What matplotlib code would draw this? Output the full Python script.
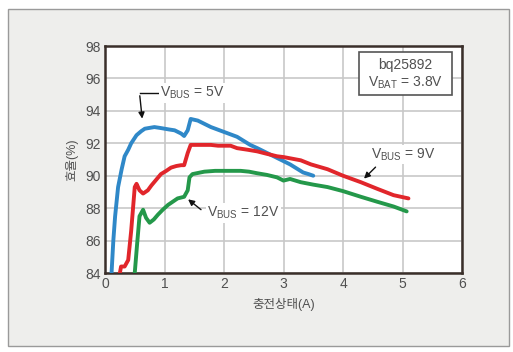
import numpy as np
import matplotlib.pyplot as plt
from matplotlib.patches import Rectangle

plt.rcParams['font.family'] = ['Liberation Sans', 'Noto Sans CJK KR', 'DejaVu Sans']

# data
x_5v = [0.11, 0.14, 0.17, 0.22, 0.28, 0.33, 0.39, 0.44, 0.53, 0.61, 0.67, 0.75, 0.83,
        0.92, 1.0, 1.08, 1.17, 1.28, 1.33, 1.39, 1.44, 1.56, 1.67, 1.78, 1.89, 2.0,
        2.11, 2.22, 2.33, 2.44, 2.56, 2.67, 2.78, 2.89, 3.0, 3.11, 3.22, 3.33, 3.42, 3.5]
y_5v = [84.0, 86.0, 87.5, 89.3, 90.4, 91.2, 91.6, 92.0, 92.5, 92.75, 92.9, 92.95, 93.0,
        92.95, 92.9, 92.85, 92.8, 92.6, 92.45, 92.8, 93.5, 93.4, 93.2, 93.0, 92.85, 92.7,
        92.55, 92.4, 92.15, 91.9, 91.7, 91.5, 91.3, 91.1, 90.9, 90.7, 90.45, 90.2, 90.1, 90.0]

x_9v = [0.25, 0.27, 0.33, 0.39, 0.44, 0.5, 0.53, 0.58, 0.64, 0.72, 0.78, 0.86, 0.94,
        1.03, 1.11, 1.2, 1.28, 1.33, 1.39, 1.44, 1.6, 1.78, 1.9, 2.0, 2.11, 2.22, 2.4,
        2.56, 2.72, 2.89, 3.0, 3.29, 3.46, 3.74, 4.0, 4.3, 4.57, 4.85, 5.1]
y_9v = [84.0, 84.4, 84.4, 84.8, 86.6, 89.3, 89.5, 89.1, 88.9, 89.1, 89.4, 89.75, 90.1,
        90.3, 90.5, 90.6, 90.65, 90.65, 91.4, 91.9, 91.9, 91.9, 91.85, 91.85, 91.85,
        91.7, 91.6, 91.5, 91.35, 91.2, 91.15, 90.95, 90.7, 90.4, 90.0, 89.6, 89.2, 88.8, 88.6]

x_12v = [0.5, 0.54, 0.58, 0.64, 0.69, 0.75, 0.82, 0.89, 0.97, 1.06, 1.14, 1.22, 1.33,
         1.39, 1.42, 1.47, 1.67, 1.85, 2.0, 2.15, 2.28, 2.42, 2.56, 2.72, 2.89, 3.0,
         3.11, 3.29, 3.5, 3.74, 4.0, 4.3, 4.57, 4.85, 5.07]
y_12v = [84.0, 85.8, 87.5, 87.9, 87.4, 87.1, 87.3, 87.6, 87.9, 88.2, 88.4, 88.6, 88.7,
         89.1, 89.9, 90.1, 90.25, 90.3, 90.3, 90.3, 90.3, 90.25, 90.15, 90.05, 89.9,
         89.7, 89.8, 89.6, 89.45, 89.3, 89.05, 88.7, 88.4, 88.1, 87.8]

xticks = [0, 1, 2, 3, 4, 5, 6]
yticks = [84, 86, 88, 90, 92, 94, 96, 98]

fig = plt.figure(figsize=(5.13, 3.52), dpi=100)
fig.patch.set_facecolor('white')
fig.patches.append(Rectangle((8 / 513, 1 - 346 / 352), 501 / 513, 337 / 352,
                             transform=fig.transFigure, facecolor='#eeeeec',
                             edgecolor='#9a9a9a', lw=1.0, zorder=-10))

ax = fig.add_axes([105 / 513, 1 - 273 / 352, 357 / 513, 227 / 352])
ax.set_zorder(1)
ax.set_facecolor('white')
ax.set_xlim(0, 6)
ax.set_ylim(84, 98)
ax.set_xticks(xticks)
ax.set_yticks(yticks)
ax.grid(True, color='#c8c8c8', lw=1.2)
ax.set_axisbelow(True)
ax.tick_params(length=0, labelsize=10, colors='#505050', pad=3)
for s in ax.spines.values():
    s.set_color('#3a2f2a')
    s.set_linewidth(1.8)

ax.plot(x_5v, y_5v, color='#2f88c8', lw=2.8, solid_capstyle='round', zorder=3)
ax.plot(x_9v, y_9v, color='#e1262b', lw=2.8, solid_capstyle='round', zorder=3)
ax.plot(x_12v, y_12v, color='#24984a', lw=2.8, solid_capstyle='round', zorder=3)

ax.set_xlabel('충전상태(A)', fontsize=9, color='#505050', labelpad=5)
ax.set_ylabel('효율(%)', fontsize=9, color='#505050', labelpad=5)

tkw = dict(fontsize=10, color='#505050', va='center', ha='left', zorder=5,
           bbox=dict(facecolor='white', edgecolor='none', pad=1))
akw = dict(arrowstyle='-|>', color='#111111', lw=1.0, mutation_scale=9)

# 5V label with elbow arrow
ax.text(0.93, 95.1, r'V$_{\mathregular{BUS}}$ = 5V', **tkw)
ax.plot([0.58, 0.89], [95.1, 95.1], color='#111111', lw=1.0, zorder=4)
ax.annotate('', xy=(0.63, 93.35), xytext=(0.58, 95.1), arrowprops=akw, zorder=4)

# 12V label
ax.text(1.72, 87.7, r'V$_{\mathregular{BUS}}$ = 12V', **tkw)
ax.annotate('', xy=(1.36, 88.65), xytext=(1.65, 87.8), arrowprops=akw, zorder=4)

# 9V label
ax.text(4.47, 91.3, r'V$_{\mathregular{BUS}}$ = 9V', **tkw)
ax.annotate('', xy=(4.32, 89.7), xytext=(4.58, 90.65), arrowprops=akw, zorder=4)

# info box
ax.add_patch(Rectangle((4.27, 95.0), 1.56, 2.6, facecolor='white',
                       edgecolor='#555555', lw=1.2, zorder=4))
ax.text(5.05, 96.85, 'bq25892', fontsize=10, color='#505050', ha='center',
        va='center', zorder=5)
ax.text(5.05, 95.75, r'V$_{\mathregular{BAT}}$ = 3.8V', fontsize=10, color='#505050',
        ha='center', va='center', zorder=5)

fig.savefig('out.png', dpi=100)
